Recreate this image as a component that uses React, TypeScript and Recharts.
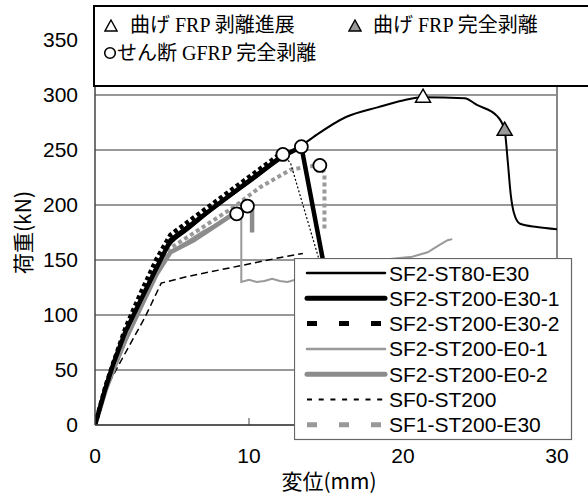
import React from 'react';
import { ComposedChart, Line, Scatter, XAxis, YAxis, CartesianGrid, ReferenceLine, Legend } from 'recharts';

// 変位 (mm) , 荷重 (kN) pairs
const st80E30 = [
  [0, 0], [0.6, 33], [1.2, 58], [2, 85], [3, 115], [4, 145], [5, 166], [6, 177], [8, 200], [10, 220],
  [12, 241], [13, 250], [14.2, 262], [16.3, 280], [18.4, 289], [20, 295], [21.3, 298], [24, 297],
  [24.8, 291], [26.1, 281], [26.6, 268], [26.8, 240], [27, 209], [27.2, 193], [27.6, 183], [28.7, 180], [30, 178],
];
const st200E30_1 = [
  [0, 0], [0.65, 32], [1.2, 56], [1.95, 84], [3.05, 116], [4.15, 147], [4.9, 168], [12, 243], [13.4, 253], [14.8, 150],
];
const st200E30_2 = [
  [0, 0], [0.7, 36], [1.3, 61], [2, 89], [3, 121], [4, 151], [4.9, 173], [11.8, 244], [12.2, 246],
];
const st200E30_2Drop = [[12.2, 246], [12.7, 238], [14.6, 148], [14.9, 148]];
const st200E0_1 = [
  [0, 0], [0.7, 33], [1.3, 55], [2, 80], [3, 112], [4.2, 145], [5, 158], [7, 176], [9.2, 192], [9.5, 190],
  [9.5, 130], [10, 132], [10.5, 130], [11, 131], [11.5, 133], [12, 131], [12.5, 130], [13, 132], [14.5, 135],
  [16, 141], [18.5, 150], [20.6, 153], [21.6, 157], [22.4, 164], [22.9, 168], [23.2, 169],
];
const st200E0_2 = [
  [0, 0], [0.7, 32], [1.3, 54], [2, 78], [3, 108], [4, 137], [4.9, 157], [6.4, 168], [9, 192], [9.9, 199],
  [10.2, 196], [10.2, 175],
];
const sf0St200 = [
  [0, 0], [0.9, 38], [1.95, 65], [3.25, 98], [4.3, 129], [6, 135], [12.3, 153], [13.5, 156],
];
const sf1St200E30 = [
  [0, 0], [0.7, 33], [1.3, 55], [2, 82], [3, 115], [4, 143], [4.7, 159], [9, 198], [10.7, 216], [12.7, 232],
  [13.8, 235], [14.6, 236], [14.9, 229], [14.9, 176],
];

// markers
const frpPeelStart = [[21.3, 298]];
const frpPeelFull = [[26.6, 268]];
const gfrpShearPeel = [[9.2, 192], [9.9, 199], [12.2, 246], [13.4, 253], [14.6, 236]];

const xTicks = [0, 10, 20, 30];
const yTicks = [0, 50, 100, 150, 200, 250, 300, 350];

const toXY = (pts: number[][]) => pts.map(([x, y]) => ({ x, y }));

const SANS = "'Liberation Sans', Arial, sans-serif";
const JP = "'Noto Sans CJK JP', sans-serif";
const SERIF = "'Liberation Serif', 'Noto Sans CJK JP', serif";

const legendItems = [
  { name: 'SF2-ST80-E30', color: '#000', width: 2.5, dash: undefined },
  { name: 'SF2-ST200-E30-1', color: '#000', width: 5, dash: undefined },
  { name: 'SF2-ST200-E30-2', color: '#000', width: 5, dash: '10 22' },
  { name: 'SF2-ST200-E0-1', color: '#999', width: 2.5, dash: undefined },
  { name: 'SF2-ST200-E0-2', color: '#8c8c8c', width: 5, dash: undefined },
  { name: 'SF0-ST200', color: '#000', width: 2, dash: '5 6.7' },
  { name: 'SF1-ST200-E30', color: '#999', width: 5, dash: '10 22' },
];

const SeriesLegend = () => (
  <svg width={279} height={183} style={{ display: 'block' }}>
    <rect x={0.5} y={0.5} width={277} height={181} fill="#fff" stroke="#666" strokeWidth={1.2} />
    {legendItems.map((it, i) => {
      const cy = 15 + i * 25.3;
      return (
        <g key={it.name}>
          <line x1={13} x2={91} y1={cy} y2={cy} stroke={it.color} strokeWidth={it.width}
            strokeDasharray={it.dash} strokeLinecap={it.dash ? 'butt' : 'round'} />
          <text x={95} y={cy + 7.5} fontSize={21} fontFamily={SANS} fill="#000">{it.name}</text>
        </g>
      );
    })}
  </svg>
);

const OpenCircle = (p: any) => (
  <circle cx={p.cx} cy={p.cy} r={6.5} fill="#fff" stroke="#000" strokeWidth={1.8} />
);
const triangle = (fill: string) => (p: any) => (
  <path d={`M${p.cx},${p.cy - 8} L${p.cx + 7.5},${p.cy + 5} L${p.cx - 7.5},${p.cy + 5} Z`}
    fill={fill} stroke="#000" strokeWidth={1.5} />
);

const XTick = (props: any) => {
  const { x, y, payload } = props;
  const v = payload.value;
  return (
    <g>
      {v > 0 && v < 30 && <line x1={x} x2={x} y1={y - 23} y2={y - 30} stroke="#444" strokeWidth={1} />}
      <text x={x} y={y + 15} textAnchor="middle" fontSize={21} fontFamily={SANS} fill="#000">{v}</text>
    </g>
  );
};

const XTitle = (props: any) => {
  const vb = props.viewBox || { x: 0, y: 0, width: 0, height: 0 };
  return (
    <text x={vb.x + vb.width / 2 + 3} y={vb.y + vb.height - 10} textAnchor="middle" fontSize={21}
      fontFamily={JP} fill="#000">変位(mm)</text>
  );
};

const YTitle = (props: any) => {
  const vb = props.viewBox || { x: 0, y: 0, width: 0, height: 0 };
  const cx = vb.x + 22;
  const cy = vb.y + vb.height / 2;
  return (
    <text transform={`translate(${cx},${cy}) rotate(-90)`} textAnchor="middle" dominantBaseline="central"
      fontSize={21} fontFamily={JP} fill="#000">荷重(kN)</text>
  );
};

const MiniTri = ({ fill }: { fill: string }) => (
  <svg width={14} height={13} style={{ position: 'absolute', top: -6 }}>
    <path d="M7,1 L13,12 L1,12 Z" fill={fill} stroke="#000" strokeWidth={1.4} />
  </svg>
);

const MarkerLegend = () => (
  <div style={{
    position: 'absolute', left: 93, top: 5, width: 493, height: 78, background: '#fff',
    border: '2px solid #000', borderRight: 'none', fontFamily: SERIF, fontSize: 20, color: '#000',
  }}>
    <div style={{ position: 'absolute', left: 9, top: 18 }}><MiniTri fill="#fff" /></div>
    <div style={{ position: 'absolute', left: 35, top: 4, lineHeight: '28px', whiteSpace: 'nowrap' }}>曲げ FRP 剥離進展</div>
    <div style={{ position: 'absolute', left: 253, top: 18 }}><MiniTri fill="#999" /></div>
    <div style={{ position: 'absolute', left: 278, top: 4, lineHeight: '28px', whiteSpace: 'nowrap' }}>曲げ FRP 完全剥離</div>
    <svg width={14} height={14} style={{ position: 'absolute', left: 8, top: 39 }}>
      <circle cx={7} cy={7} r={5.3} fill="#fff" stroke="#000" strokeWidth={1.6} />
    </svg>
    <div style={{ position: 'absolute', left: 22, top: 32, lineHeight: '28px', whiteSpace: 'nowrap' }}>せん断 GFRP 完全剥離</div>
  </div>
);

const App = () => (
  <div style={{ position: 'absolute', left: 0, top: 0, width: 588, height: 499, background: '#fff' }}>
    <ComposedChart width={588} height={499} margin={{ top: 40, right: 31, bottom: 0, left: 0 }}>
      <CartesianGrid vertical={false} stroke="#333" strokeWidth={1} />
      <XAxis type="number" dataKey="x" domain={[0, 30]} ticks={xTicks} height={74} tickLine={false}
        tickSize={0} tickMargin={23} tick={<XTick />} axisLine={{ stroke: '#444', strokeWidth: 1.5 }}
        label={<XTitle />} allowDataOverflow />
      <YAxis type="number" domain={[0, 350]} ticks={yTicks} width={95} tickLine={false} tickSize={0}
        tickMargin={17} tick={{ fontSize: 21, fill: '#000', fontFamily: SANS }}
        axisLine={{ stroke: '#444', strokeWidth: 1.5 }} label={<YTitle />} allowDataOverflow />
      <ReferenceLine x={30} stroke="#888" strokeWidth={2} />
      <Line data={toXY(sf0St200)} dataKey="y" type="linear" stroke="#000" strokeWidth={1.5}
        strokeDasharray="7 4" dot={false} isAnimationActive={false} />
      <Line data={toXY(st200E0_1)} dataKey="y" type="linear" stroke="#999" strokeWidth={2}
        dot={false} isAnimationActive={false} />
      <Line data={toXY(st200E0_2)} dataKey="y" type="linear" stroke="#8c8c8c" strokeWidth={4.5}
        dot={false} isAnimationActive={false} />
      <Line data={toXY(sf1St200E30)} dataKey="y" type="linear" stroke="#999" strokeWidth={4}
        strokeDasharray="4 3" dot={false} isAnimationActive={false} />
      <Line data={toXY(st80E30)} dataKey="y" type="monotone" stroke="#000" strokeWidth={2}
        dot={false} isAnimationActive={false} />
      <Line data={toXY(st200E30_2Drop)} dataKey="y" type="linear" stroke="#000" strokeWidth={1.2}
        strokeDasharray="2 2" dot={false} isAnimationActive={false} />
      <Line data={toXY(st200E30_2)} dataKey="y" type="linear" stroke="#000" strokeWidth={4.5}
        strokeDasharray="4 3" dot={false} isAnimationActive={false} />
      <Line data={toXY(st200E30_1)} dataKey="y" type="linear" stroke="#000" strokeWidth={4.5}
        dot={false} isAnimationActive={false} />
      <Scatter data={toXY(gfrpShearPeel)} dataKey="y" shape={OpenCircle} isAnimationActive={false} />
      <Scatter data={toXY(frpPeelStart)} dataKey="y" shape={triangle('#fff')} isAnimationActive={false} />
      <Scatter data={toXY(frpPeelFull)} dataKey="y" shape={triangle('#999')} isAnimationActive={false} />
      <Legend layout="vertical" align="center" verticalAlign="middle" content={<SeriesLegend />}
        wrapperStyle={{ left: 294, top: 258, width: 279, height: 183 }} />
    </ComposedChart>
    <MarkerLegend />
  </div>
);

export default App;
